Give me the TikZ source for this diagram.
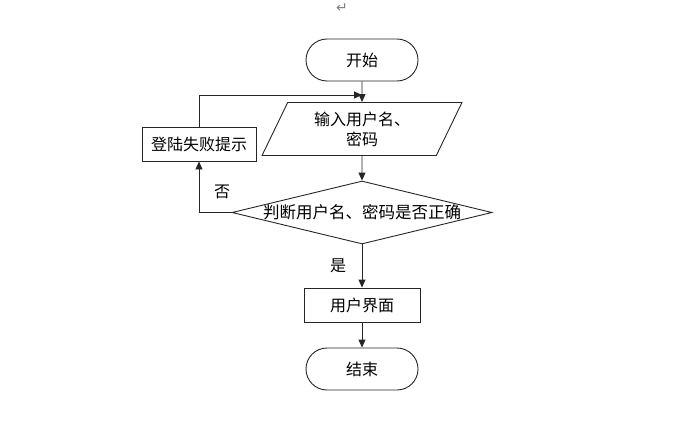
\documentclass[tikz,border=0pt]{standalone}
\usepackage{fontspec}
\newfontfamily\cjk{Noto Sans CJK SC}
\newfontfamily\symfont{DejaVu Sans}
\usetikzlibrary{arrows.meta,positioning,shapes.geometric,shapes.misc}
\tikzset{
  box/.style={draw=black!85, line width=0.9pt, align=center, fill=white,
    inner sep=2pt, font=\cjk\fontsize{16}{20}\selectfont},
  terminal/.style={box, rounded rectangle, minimum width=116pt, minimum height=42pt},
  process/.style={box, rectangle, minimum height=34pt},
  io/.style={box, trapezium, trapezium left angle=66, trapezium right angle=114,
    trapezium stretches=true, minimum width=200pt, minimum height=53pt},
  decision/.style={box, diamond, minimum width=260pt, minimum height=63pt, inner sep=0pt},
  arr/.style={-{Triangle[length=8pt,width=7pt]}, line width=0.9pt, draw=black!85},
  tag/.style={font=\cjk\fontsize{16}{20}\selectfont}
}

\begin{document}
\begin{tikzpicture}[x=1pt, y=-1pt]
  \useasboundingbox (0,0) rectangle (693,425);

  \node[font=\symfont\fontsize{14}{16}\selectfont, text=black!50] (mark) at (342,8) {↵};

  \node[terminal] (start) at (362,60) {开始};
  \node[io] (input) at (362,129) {输入用户名、\\密码};
  \node[process, minimum width=114pt] (fail) at (199,144) {登陆失败提示};
  \node[decision, label=center:{\cjk\fontsize{16.5}{20}\selectfont 判断用户名、密码是否正确}] (judge) at (362,212.5) {};
  \node[process, minimum width=116pt] (user) at (362,305) {用户界面};
  \node[terminal] (end) at (362,369) {结束};

  \coordinate (back) at (362,95);

  \draw[arr] (start) -- (input);
  \draw[arr] (input) -- (judge);
  \draw[arr] (judge) -- (user);
  \draw[arr] (user) -- (end);
  \draw[arr] (judge.west) -| (fail.south);
  \draw[arr] (fail.north) |- (back);

  \node[tag] (no) at (222,192) {否};
  \node[tag] (yes) at (338,266) {是};
\end{tikzpicture}
\end{document}
